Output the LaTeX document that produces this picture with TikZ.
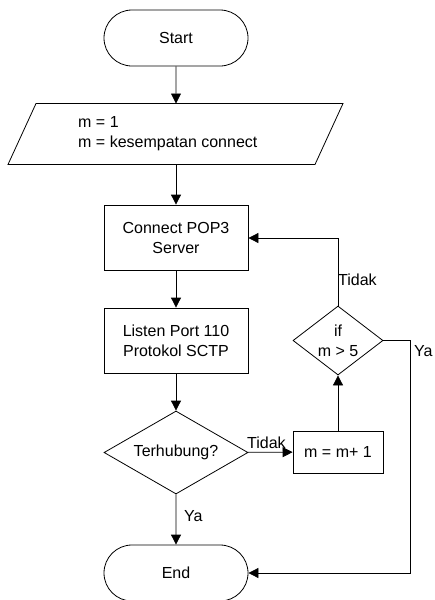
\documentclass[tikz,border=0pt]{standalone}
\usepackage{fontspec}
\setmainfont{Liberation Sans}
\usetikzlibrary{shapes.geometric,shapes.misc,arrows.meta}
\begin{document}
\begin{tikzpicture}[x=1pt,y=-1pt,
  every node/.style={font=\fontsize{16}{20}\selectfont, inner sep=0pt},
  term/.style={draw, line width=0.8pt, rounded rectangle, minimum width=144pt, minimum height=56pt},
  proc/.style={draw, line width=0.8pt, rectangle, minimum width=144pt, minimum height=65pt, align=center},
  dec/.style={draw, line width=0.8pt, diamond},
  lbl/.style={inner sep=0pt},
  conn/.style={line width=0.8pt, -{Triangle[length=10pt,width=10pt]}}
]
\useasboundingbox (0,0) rectangle (435,600);

\node[term] (start) at (176,38) {Start};

\node[minimum width=307pt, minimum height=61pt] (par) at (175.5,134) {};
\draw[line width=0.8pt] (36,103.5) -- (343,103.5) -- (315,164.5) -- (8,164.5) -- cycle;
\node[anchor=west, align=left] (partext) at (78,134) {m = 1\\m = kesempatan connect};

\node[proc] (conn) at (176,237.5) {Connect POP3\\Server};
\node[proc] (listen) at (176,340.5) {Listen Port 110\\Protokol SCTP};
\node[dec, minimum width=144pt, minimum height=83pt] (terh) at (176,452.5) {};
\node (terhtext) at (176,452.5) {Terhubung?};
\node[draw, line width=0.8pt, minimum width=90pt, minimum height=42pt] (inc) at (338,452) {m = m+ 1};
\node[dec, minimum width=90pt, minimum height=69pt] (ifm) at (338,340.5) {};
\node[align=center] (ifmtext) at (338,340.5) {if\\m > 5};
\node[term] (end) at (176,573) {End};

\coordinate (c1) at (176,103.5);
\coordinate (c2) at (176,164.5);
\coordinate (ya1) at (410,340.5);
\coordinate (ya2) at (410,573);
\coordinate (td1) at (338,238);

\draw[conn] (start) -- (c1);
\draw[conn] (c2) -- (conn);
\draw[conn] (conn) -- (listen);
\draw[conn] (listen) -- (terh);
\draw[conn] (terh) -- (end);
\draw[conn] (terh) -- (inc);
\draw[conn] (inc) -- (ifm);
\draw[conn] (ifm.north) -- (td1) -- (conn.east |- td1);
\draw[conn] (ifm.east) -- (ya1) -- (ya2) -- (end.east);

\node[lbl, anchor=west] (lya1) at (184,516) {Ya};
\node[lbl, anchor=base west] (ltd1) at (247,448) {Tidak};
\node[lbl, anchor=west] (ltd2) at (338,280) {Tidak};
\node[lbl, anchor=west] (lya2) at (414,351) {Ya};
\end{tikzpicture}
\end{document}
